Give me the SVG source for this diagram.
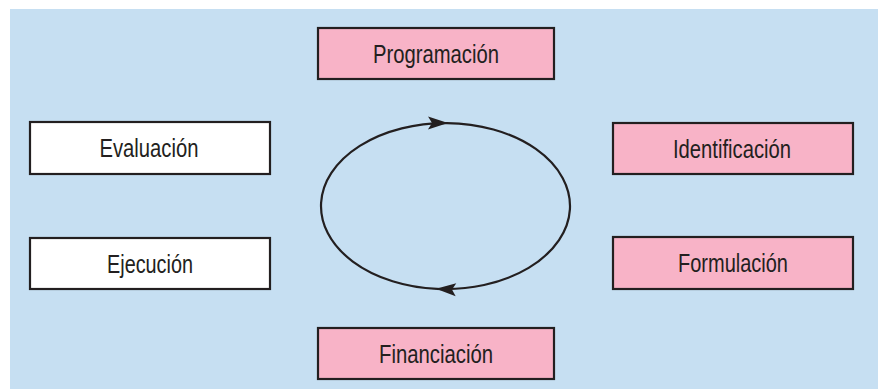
<svg xmlns="http://www.w3.org/2000/svg" width="878" height="389" viewBox="0 0 878 389">
  <style>
    .box { stroke: #231f20; stroke-width: 2.2; }
    .pink { fill: #f8b3c7; }
    .white { fill: #ffffff; }
    .lbl { font-family: "Liberation Sans", Arial, sans-serif; font-size: 25px; fill: #231f20; text-anchor: middle; }
    .cycle { fill: none; stroke: #231f20; stroke-width: 2.2; }
  </style>
  <defs>
    <marker id="arrow" viewBox="-21 -7 22 14" refX="0" refY="0" markerWidth="22" markerHeight="14" markerUnits="userSpaceOnUse" orient="auto">
      <path d="M1,0 L-19,-6.5 L-15,0 L-19,6.5 Z" fill="#231f20"/>
    </marker>
  </defs>
  <rect x="10" y="9" width="868" height="380" fill="#c6dff2"/>

  <g id="programacion">
    <rect class="box pink" x="318" y="28" width="236" height="51"/>
    <text class="lbl" x="436" y="62.5" textLength="126" lengthAdjust="spacingAndGlyphs">Programación</text>
  </g>
  <g id="identificacion">
    <rect class="box pink" x="613" y="123" width="240" height="51"/>
    <text class="lbl" x="732" y="157.5" textLength="118" lengthAdjust="spacingAndGlyphs">Identificación</text>
  </g>
  <g id="formulacion">
    <rect class="box pink" x="613" y="237" width="240" height="52"/>
    <text class="lbl" x="733" y="272" textLength="110" lengthAdjust="spacingAndGlyphs">Formulación</text>
  </g>
  <g id="financiacion">
    <rect class="box pink" x="318" y="328" width="236" height="51"/>
    <text class="lbl" x="436" y="362.5" textLength="114" lengthAdjust="spacingAndGlyphs">Financiación</text>
  </g>
  <g id="ejecucion">
    <rect class="box white" x="30" y="238" width="240" height="51"/>
    <text class="lbl" x="150" y="272.5" textLength="86" lengthAdjust="spacingAndGlyphs">Ejecución</text>
  </g>
  <g id="evaluacion">
    <rect class="box white" x="30" y="122" width="240" height="52"/>
    <text class="lbl" x="149" y="157" textLength="99" lengthAdjust="spacingAndGlyphs">Evaluación</text>
  </g>

  <g id="connectors">
    <path class="cycle" d="M437,288.9 A124.5,83 0 0 1 447,123.1" marker-end="url(#arrow)"/>
    <path class="cycle" d="M447,123.1 A124.5,83 0 1 1 437,288.9" marker-end="url(#arrow)"/>
  </g>
</svg>
